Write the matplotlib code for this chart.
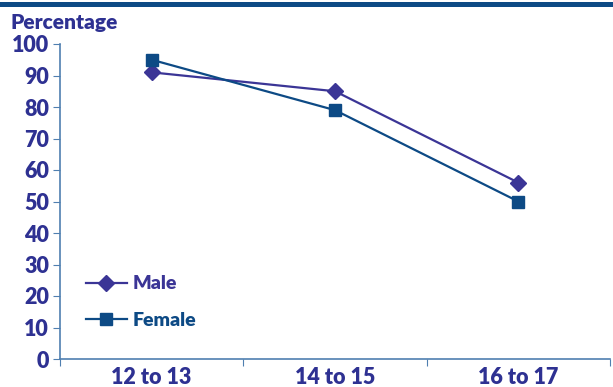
import numpy as np
import matplotlib.pyplot as plt
from matplotlib.patches import Rectangle

ages = ['12 to 13', '14 to 15', '16 to 17']
male = [91, 85, 56]
female = [95, 79, 50]

c_male = '#3b3596'
c_female = '#0d4a85'
c_text = '#2e3192'
c_axis = '#4f7fb0'

plt.rcParams['font.family'] = ['Lato', 'DejaVu Sans']
plt.rcParams['font.weight'] = 'heavy'

fig = plt.figure(figsize=(6.13, 3.87), dpi=100)
ax = fig.add_axes([60/613, 1-359/387, 550/613, 315/387])

x = np.arange(len(ages)) + 0.5
ax.plot(x, male, color=c_male, lw=1.6, marker='D', ms=8, label='Male')
ax.plot(x, female, color=c_female, lw=1.6, marker='s', ms=8, label='Female')

ax.set_xlim(0, 3)
ax.set_ylim(0, 100)
ax.set_yticks(range(0, 101, 10))
ax.set_xticks([0, 1, 2, 3])
ax.set_xticklabels([])
ax.set_xticks(x, minor=True)
ax.set_xticklabels(ages, minor=True)
ax.tick_params(axis='x', which='minor', length=0, pad=6, labelsize=15.5, labelcolor=c_text)
ax.tick_params(axis='x', which='major', length=5, color=c_axis, direction='out')
ax.tick_params(axis='y', length=5, color=c_axis, labelsize=15.5, labelcolor=c_text, pad=3)
for s in ['top', 'right']:
    ax.spines[s].set_visible(False)
for s in ['left', 'bottom']:
    ax.spines[s].set_color(c_axis)
    ax.spines[s].set_linewidth(1.2)
for l in ax.lines:
    l.set_clip_on(False)

fig.text(10/613, 1-22/387, 'Percentage', fontsize=15, color=c_text, va='center', ha='left')

leg = ax.legend(loc='lower left', bbox_to_anchor=(0.015, 0.04), frameon=False, fontsize=14,
                handlelength=2.1, labelspacing=1.0, handletextpad=0.3)
for t, c in zip(leg.get_texts(), [c_male, c_female]):
    t.set_color(c)

fig.add_artist(Rectangle((0, 1-7/387), 1, 5/387, transform=fig.transFigure, color=c_female, lw=0))

fig.savefig('out.png', dpi=100)
